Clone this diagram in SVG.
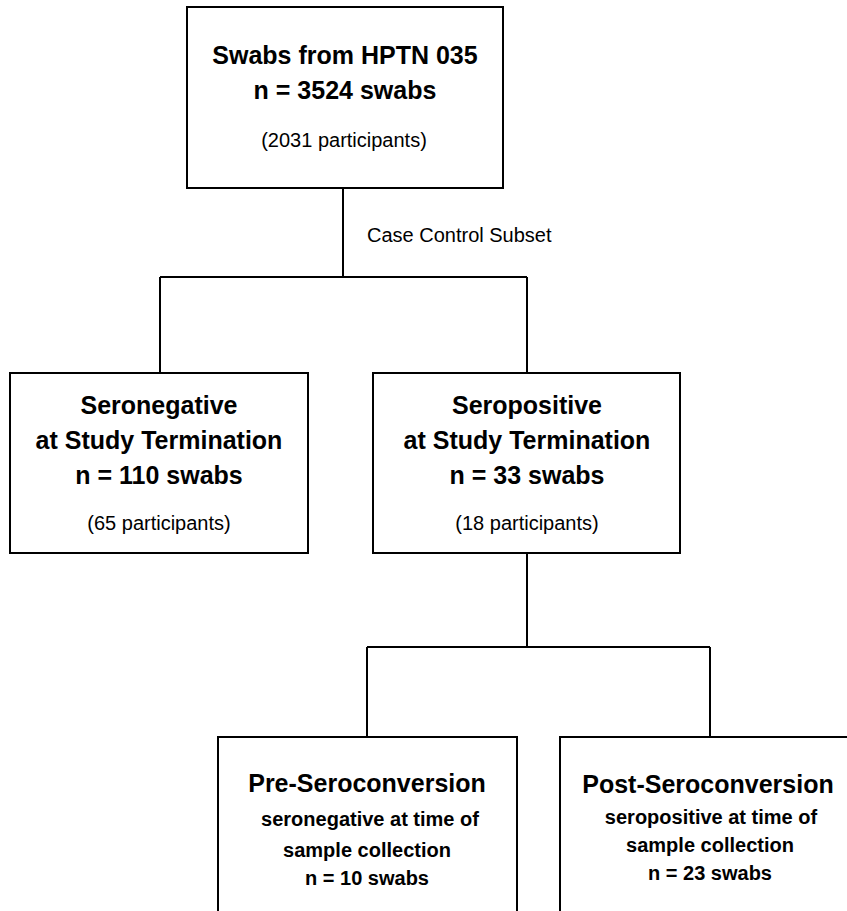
<svg xmlns="http://www.w3.org/2000/svg" width="847" height="911" viewBox="0 0 847 911">
<style>
.box{fill:#fff;stroke:#000;stroke-width:2}
.ln{fill:none;stroke:#000;stroke-width:2}
text{font-family:"Liberation Sans",Arial,sans-serif;fill:#000;text-anchor:middle}
.t{font-size:25px;font-weight:bold}
.s{font-size:20px;font-weight:bold}
.r{font-size:20px}
.lbl{font-size:20px;text-anchor:start}
</style>
<rect width="847" height="911" fill="#fff"/>
<g id="connectors">
<path class="ln" d="M343,188 V277 M160,277 H527 M160,277 V373 M527,277 V373"/>
<path class="ln" d="M527,553 V647 M367,647 H710 M367,647 V737 M710,647 V737"/>
<text class="lbl" x="367" y="242">Case Control Subset</text>
</g>
<g id="top">
<rect class="box" x="187" y="7" width="316" height="181"/>
<text class="t" x="345" y="64">Swabs from HPTN 035</text>
<text class="t" x="345" y="99">n = 3524 swabs</text>
<text class="r" x="344" y="147">(2031 participants)</text>
</g>
<g id="seronegative">
<rect class="box" x="10" y="373" width="298" height="180"/>
<text class="t" x="159" y="414">Seronegative</text>
<text class="t" x="159" y="449">at Study Termination</text>
<text class="t" x="159" y="484">n = 110 swabs</text>
<text class="r" x="159" y="530">(65 participants)</text>
</g>
<g id="seropositive">
<rect class="box" x="373" y="373" width="307" height="180"/>
<text class="t" x="527" y="414">Seropositive</text>
<text class="t" x="527" y="449">at Study Termination</text>
<text class="t" x="527" y="484">n = 33 swabs</text>
<text class="r" x="527" y="530">(18 participants)</text>
</g>
<g id="pre">
<rect class="box" x="218" y="737" width="299" height="200"/>
<text class="t" x="367" y="792">Pre-Seroconversion</text>
<text class="s" x="370" y="826">seronegative at time of</text>
<text class="s" x="367" y="857">sample collection</text>
<text class="s" x="367" y="885">n = 10 swabs</text>
</g>
<g id="post">
<rect class="box" x="560" y="737" width="298" height="200"/>
<text class="t" x="708" y="793">Post-Seroconversion</text>
<text class="s" x="711" y="824">seropositive at time of</text>
<text class="s" x="710" y="852">sample collection</text>
<text class="s" x="710" y="880">n = 23 swabs</text>
</g>
</svg>
